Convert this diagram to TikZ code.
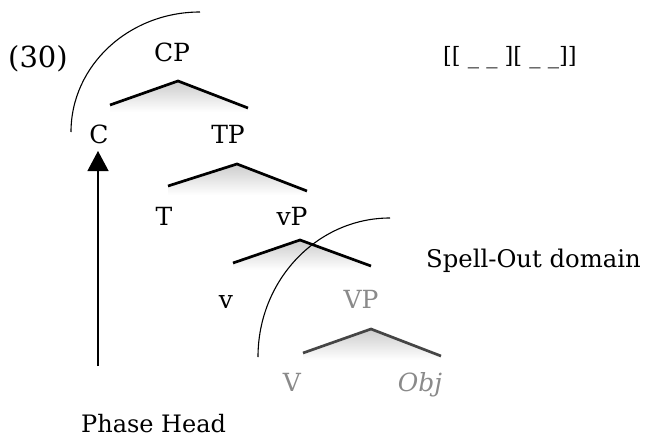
\documentclass[tikz,border=0pt]{standalone}
\usepackage{fontspec}
\setmainfont{DejaVu Serif}
\usetikzlibrary{arrows.meta}
\definecolor{labelgray}{HTML}{8A8A8A}
\definecolor{branchgray}{HTML}{454545}
\begin{document}
\begin{tikzpicture}[x=1pt,y=-1pt,
  lbl/.style={anchor=base,inner sep=0pt,font=\fontsize{25}{28}\selectfont},
  txt/.style={anchor=base west,inner sep=0pt,font=\fontsize{23}{28}\selectfont},
  gry/.style={text=labelgray},
  branch/.style={line width=2.7pt,line cap=butt,line join=miter},
  arcline/.style={line width=1.1pt},
  shadowfill/.style={top color=black!20,bottom color=white,draw=none}]
\useasboundingbox (0,0) rectangle (645,439);

% shadows under the branches
\shade[shadowfill] (110,105) -- (178,81) -- (248,108) -- (248,112) -- (110,112) -- cycle;
\shade[shadowfill] (168,186) -- (237,164) -- (307,191) -- (307,195) -- (168,195) -- cycle;
\shade[shadowfill] (233,263) -- (300,240) -- (371,266) -- (371,270) -- (233,270) -- cycle;
\shade[shadowfill] (303,353) -- (371,329) -- (441,356) -- (441,360) -- (303,360) -- cycle;

% number and bracket string
\node[anchor=base west,inner sep=0pt,font=\fontsize{29}{32}\selectfont] (num) at (8,67) {(30)};
\node[anchor=base west,inner sep=0pt,font=\fontsize{22.5}{26}\selectfont] (brk) at (443,63) {[[ \_ \_ ][ \_ \_]]};

% labels
\node[lbl] (CP) at (172,61) {CP};
\node[lbl] (C) at (99,143) {C};
\node[lbl] (TP) at (228,143) {TP};
\node[lbl] (T) at (164,225) {T};
\node[lbl] (vP) at (292,225) {vP};
\node[lbl] (v) at (226,308) {v};
\node[lbl,gry] (VP) at (361,308) {VP};
\node[lbl,gry] (V) at (292,391) {V};
\node[lbl,gry,font=\fontsize{25}{28}\selectfont\itshape] (Obj) at (420,391) {Obj};
\node[txt,font=\fontsize{24.3}{28}\selectfont] (spell) at (426,267) {Spell-Out domain};
\node[txt,font=\fontsize{24}{28}\selectfont] (phase) at (81,432) {Phase Head};

% branch coordinates
\coordinate (a1l) at (110,105); \coordinate (a1) at (178,81); \coordinate (a1r) at (248,108);
\coordinate (a2l) at (168,186); \coordinate (a2) at (237,164); \coordinate (a2r) at (307,191);
\coordinate (a3l) at (233,263); \coordinate (a3) at (300,240); \coordinate (a3r) at (371,266);
\coordinate (a4l) at (303,353); \coordinate (a4) at (371,329); \coordinate (a4r) at (441,356);

\draw[branch] (a1l) -- (a1) -- (a1r);
\draw[branch] (a2l) -- (a2) -- (a2r);
\draw[branch] (a3l) -- (a3) -- (a3r);
\draw[branch,draw=branchgray] (a4l) -- (a4) -- (a4r);

% phase arcs
\coordinate (arc1s) at (71,132);
\coordinate (arc2s) at (258,357);
\draw[arcline] (arc1s) arc[start angle=180,end angle=270,x radius=129,y radius=120];
\draw[arcline] (arc2s) arc[start angle=180,end angle=270,x radius=132,y radius=139];

% arrow to the phase head
\coordinate (arrbot) at (98,366);
\coordinate (arrtop) at (98,151);
\draw[line width=1.2pt,-{Triangle[width=21pt,length=20pt]}] (arrbot) -- (arrtop);
\end{tikzpicture}
\end{document}
